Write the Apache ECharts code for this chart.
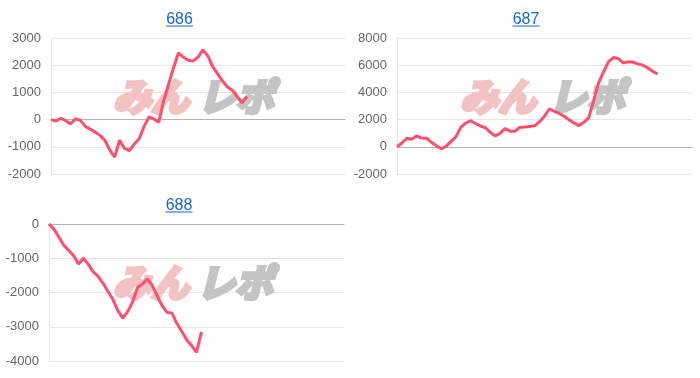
<!DOCTYPE html>
<html><head><meta charset="utf-8">
<script src="https://cdn.jsdelivr.net/npm/echarts@6/dist/echarts.min.js"></script>
<style>html,body{margin:0;padding:0;background:#fff}#c{width:700px;height:378px}</style>
</head><body><div id="c"></div>
<script>
var titles = ['686', '687', '688'];
var xCats = [0,1,2,3,4,5,6,7,8,9,10,11,12,13,14,15,16,17,18,19,20,21,22,23,24,25,26,27,28,29,30,31,32,33,34,35,36,37,38,39,40,41,42,43,44,45,46,47,48,49,50,51,52,53,54,55,56,57,58,59,60];
var data686 = [0,-50,50,-40,-160,30,-30,-250,-350,-460,-580,-760,-1120,-1380,-760,-1060,-1140,-900,-700,-250,100,20,-100,700,1300,1900,2450,2300,2180,2150,2300,2560,2350,1950,1680,1420,1200,1080,850,620,850];
var data687 = [0,280,630,560,800,640,630,330,80,-150,50,400,750,1450,1750,1920,1700,1530,1400,1050,800,1000,1350,1150,1150,1440,1460,1500,1540,1850,2250,2800,2600,2450,2250,1980,1750,1560,1800,2150,3400,4700,5500,6250,6560,6490,6170,6250,6220,6100,6000,5800,5550,5350];
var data688 = [0,-150,-380,-620,-770,-920,-1170,-1000,-1180,-1400,-1530,-1730,-1970,-2200,-2530,-2750,-2560,-2280,-1850,-1750,-1600,-1790,-2100,-2380,-2580,-2600,-2900,-3140,-3380,-3550,-3750,-3150];
var yTicks686 = {min:-2000, max:3000, interval:1000};
var yTicks687 = {min:-2000, max:8000, interval:2000};
var yTicks688 = {min:-4000, max:0, interval:1000};

var FONT = '"Liberation Sans", Arial, sans-serif';
var LINE = '#ff4f6c';
var grids = [
  {left:51, top:38, width:294, height:136},
  {left:397, top:38, width:295, height:136},
  {left:49, top:224, width:295, height:137}
];
function xAx(i){return {type:'category', gridIndex:i, data:xCats, boundaryGap:false,
  axisLabel:{show:false}, axisTick:{show:false},
  axisLine:{show:true, onZero:true, lineStyle:{color:'#b3b3b3', width:1}}, splitLine:{show:false}};}
function yAx(i,t){return {type:'value', gridIndex:i, min:t.min, max:t.max, interval:t.interval,
  axisLabel:{color:'#666', fontSize:13, fontFamily:FONT, margin:10, formatter:function(v){return String(v);}},
  axisLine:{show:true, lineStyle:{color:'#e6e6e6'}}, axisTick:{show:false},
  splitLine:{lineStyle:{color:'#e6e6e6', width:1}}};}
function ser(i,d){return {type:'line', xAxisIndex:i, yAxisIndex:i, data:d, showSymbol:false, symbol:'none',
  lineStyle:{color:LINE, width:3}, z:5, animation:false};}
function titleG(txt,x,y,uy,w){return [
  {type:'text', x:x, y:y, z:10, style:{text:txt, fontSize:16, fontFamily:FONT, fill:'#1766c9', align:'center', verticalAlign:'middle'}},
  {type:'line', z:10, shape:{x1:x-w/2, y1:uy, x2:x+w/2, y2:uy}, style:{stroke:'#1766c9', lineWidth:1}}
];}
function wmStyle(t,c){return {text:t, fontSize:38, fontWeight:'bold', fontStyle:'italic', fontFamily:'"Noto Sans CJK JP", sans-serif', fill:c, stroke:c, lineWidth:4, align:'left', verticalAlign:'middle'};}
function wm(x1,x2,y){return [
  {type:'text', x:x1, y:y, z:1, style:wmStyle('みん','#f3c2c2')},
  {type:'text', x:x2, y:y, z:1, style:wmStyle('レポ','#c4c4c4')}
];}
var graphics = [].concat(
  titleG(titles[0],179.5,19.5,26,27), titleG(titles[1],526,19.5,26,27), titleG(titles[2],179,205.5,212,27),
  wm(113,198,97), wm(460,549,97), wm(113,197,283)
);
var chart = echarts.init(document.getElementById('c'), null, {renderer:'canvas'});
chart.setOption({
  animation:false,
  grid:grids,
  xAxis:[xAx(0),xAx(1),xAx(2)],
  yAxis:[yAx(0,yTicks686),yAx(1,yTicks687),yAx(2,yTicks688)],
  series:[ser(0,data686),ser(1,data687),ser(2,data688)],
  graphic:graphics
});
</script></body></html>
